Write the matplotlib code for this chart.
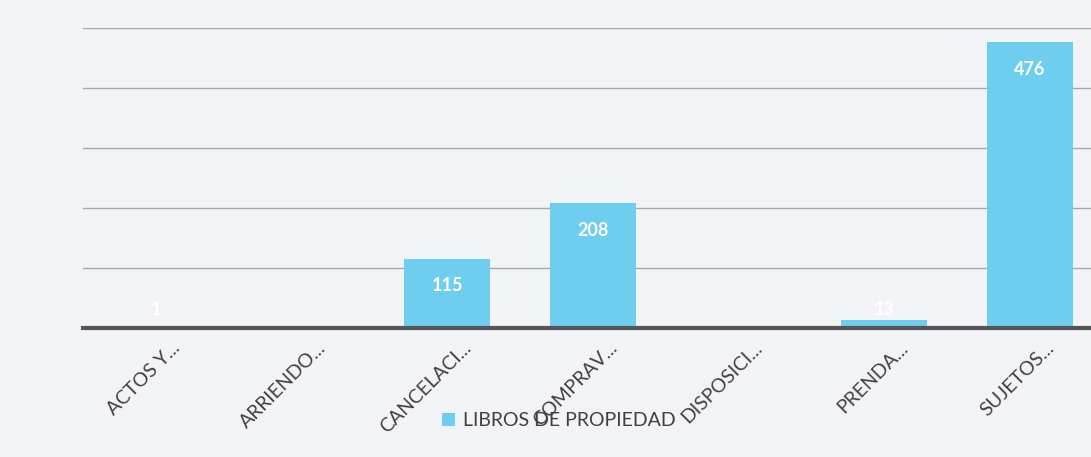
import matplotlib.pyplot as plt
import matplotlib.transforms as mtransforms

categories = ['ACTOS Y...', 'ARRIENDO...', 'CANCELACI...', 'COMPRAV...',
              'DISPOSICI...', 'PRENDA...', 'SUJETOS...']
values = [1, 0, 115, 208, 0, 13, 476]
series_name = 'LIBROS DE PROPIEDAD'

bar_color = '#6fcdf0'
bg = '#f2f3f6'

fig = plt.figure(figsize=(10.91, 4.57), dpi=100, facecolor=bg)
ax = fig.add_axes([0.076, 0.2823, 0.935, 0.6565])
ax.set_facecolor(bg)

x = list(range(len(categories)))
bars = ax.bar(x, values, width=0.59, color=bar_color, label=series_name, zorder=3)

ax.set_xlim(-0.5, len(categories) - 0.5)
ax.set_ylim(0, 500)
ax.set_yticks([100, 200, 300, 400, 500])
ax.yaxis.grid(True, color='#a8a8a8', linewidth=1.0, zorder=0)
ax.tick_params(axis='y', left=False, labelleft=False)
ax.tick_params(axis='x', length=0, pad=8)

for side in ['top', 'right', 'left']:
    ax.spines[side].set_visible(False)
ax.spines['bottom'].set_color('#555555')
ax.spines['bottom'].set_linewidth(3)
ax.spines['bottom'].set_zorder(4)

ax.set_xticks(x)
ax.set_xticklabels(categories, rotation=45, ha='right', va='top',
                   rotation_mode='anchor', fontsize=14, color='#404040',
                   family=['Lato', 'DejaVu Sans'])
offset = mtransforms.ScaledTranslation(0.15, 0.0, fig.dpi_scale_trans)
for lbl in ax.get_xticklabels():
    lbl.set_transform(lbl.get_transform() + offset)

# data labels, white, inside end of the bars
for xi, v in zip(x, values):
    if v == 0:
        continue
    ax.text(xi, max(v - 45, 30), str(v), ha='center', va='center',
            color='white', fontsize=13, fontweight='bold',
            family=['Lato', 'DejaVu Sans'], zorder=5)

leg = fig.legend(handles=[bars], labels=[series_name], loc='center',
                 bbox_to_anchor=(0.512, 0.079), frameon=False,
                 handlelength=0.7, handleheight=0.7, handletextpad=0.4,
                 prop={'family': ['Lato', 'DejaVu Sans'], 'size': 14})
for t in leg.get_texts():
    t.set_color('#404040')

fig.savefig('out.png', dpi=100, facecolor=bg)
